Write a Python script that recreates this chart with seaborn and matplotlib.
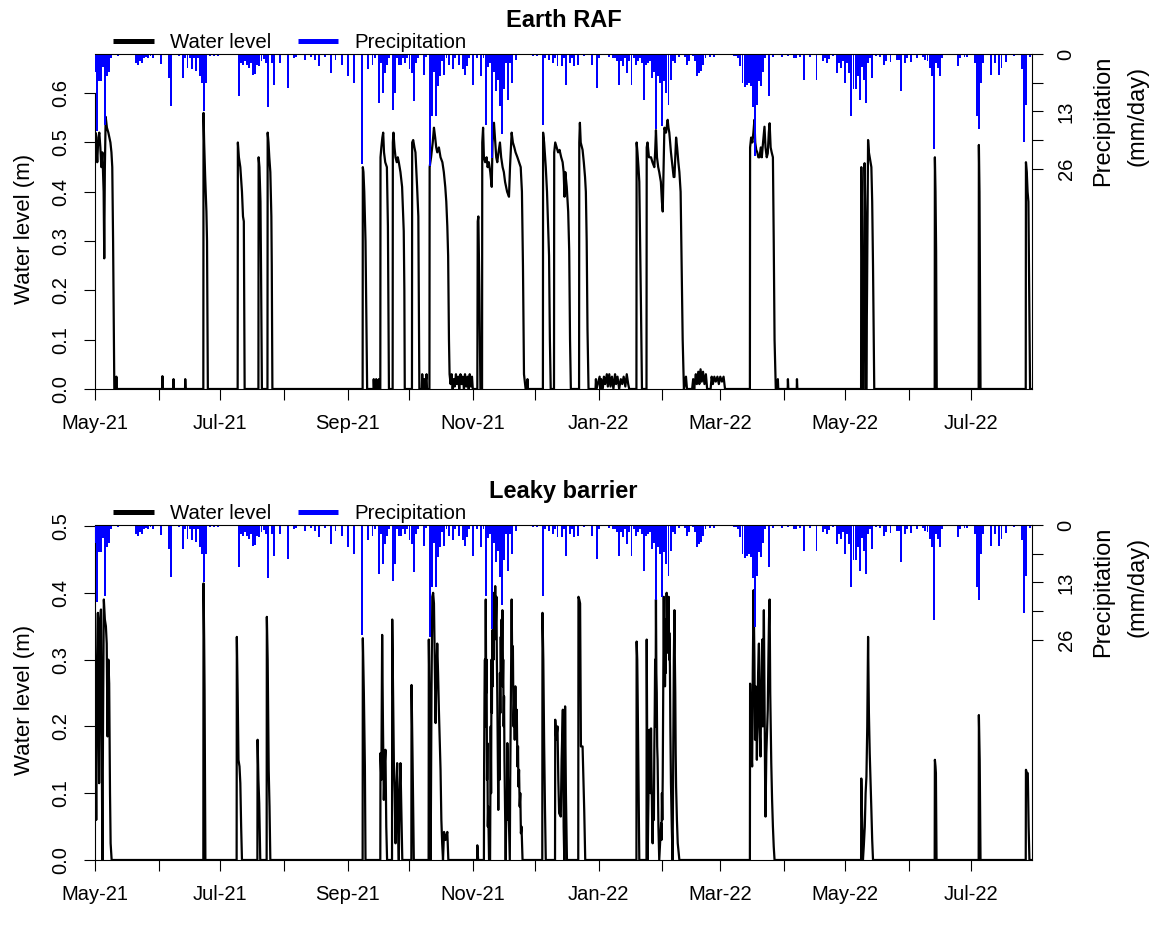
import matplotlib
matplotlib.use("Agg")
import matplotlib.pyplot as plt
from matplotlib.lines import Line2D
import seaborn as sns
import pandas as pd
import numpy as np

# ---------------- data ----------------
START = "2021-05-01"

# Daily precipitation (mm/day): day offset from 1 May 2021, amount
rain_day = [0, 1, 2, 3, 4, 5, 6, 7, 8, 11,
            20, 21, 22, 23, 24, 25, 26, 27, 28, 32, 36, 37, 41,
            43, 44, 45, 46, 47, 48, 49, 50, 51, 52, 53, 54, 56, 58, 60,
            70, 71, 72, 73, 74, 75, 76, 77, 78, 79, 80, 81, 82, 83, 84,
            86, 87, 90, 94, 97, 98, 102, 105, 107, 109, 112, 115,
            117, 120, 123, 126, 130, 133, 135, 136,
            138, 139, 140, 141, 142, 143, 145, 146, 147, 148, 149, 150, 151, 152,
            153, 154, 155, 156, 157, 160, 161,
            163, 164, 165, 166, 167, 168, 169, 170, 171,
            172, 174, 175, 177, 179, 180, 181, 182, 184, 186,
            188, 189, 190, 191, 192, 193, 194, 195, 196, 197, 198, 199, 200, 201, 202, 203, 205,
            213, 215, 218, 219, 221, 223, 224, 225, 227, 228, 229, 231, 232,
            233, 235, 238, 242, 244, 245,
            250, 252, 253, 254, 255, 256, 257, 258, 259, 260, 261, 262, 263, 264, 265, 266,
            267, 268, 269, 270, 271, 272, 273, 274, 275, 276, 277, 278, 279, 280, 281, 282, 284,
            287, 288, 289, 291, 292, 293, 294, 295, 296, 297, 299, 301,
            311, 312, 313, 314, 315, 316, 317, 318, 319, 320, 321, 322, 323, 324, 325, 326, 328,
            330, 334, 337, 340, 341, 343, 345, 348,
            351, 354, 355, 356, 357, 359, 361, 362, 363, 364, 365, 366, 367, 368, 369, 370,
            371, 372, 373, 374, 375, 376, 377, 378, 380, 382,
            384, 385, 387, 390, 391, 392, 394, 395, 397, 400,
            403, 404, 405, 406, 407, 408, 409, 410, 411, 412,
            420, 421, 423, 424, 428, 429, 430, 431, 432,
            436, 438, 440, 441, 443, 447, 451, 452, 453, 455]
rain_mm = [4, 17.5, 6, 6, 3, 16, 5, 4, 1, 0.5,
           2, 2.5, 1.5, 2, 1, 0.6, 1, 0.5, 0.8, 2.2, 5.4, 11.8, 0.5,
           5.4, 1, 3.2, 1, 3.5, 1, 3.9, 1, 5, 6.5, 13, 6.5, 0.5, 0.5, 0.5,
           9.5, 2, 2.5, 1.5, 2.5, 3.2, 2, 4.7, 4.5, 2.5, 2.8, 1.5, 1.2, 2, 12,
           2, 7, 2, 7.7, 1, 0.6, 1.3, 0.6, 1.3, 2.8, 0.6, 4.3,
           1.3, 2.4, 5, 6.5, 25, 3.5, 2.4, 0.8,
           11, 2, 8.8, 4.3, 2.4, 1, 12.6, 8.8, 1, 2.4, 2.4, 1, 2, 1,
           3.5, 4.3, 10.7, 2, 0.8, 4.7, 0.6,
           25.4, 14, 4, 14, 7.3, 5, 1.5, 4.7, 1,
           2.4, 3.5, 1, 2.4, 3.5, 4.7, 2.8, 0.8, 7, 0.8,
           5, 1, 16, 3, 2, 23.5, 4, 8.4, 5.8, 11.8, 18.2, 8, 2, 10.3, 2, 6.5, 1.3,
           0.5, 0.5, 16, 1, 1.3, 2, 1, 2.8, 2.8, 1, 7, 2, 1,
           2.8, 2.4, 0.5, 2.4, 7.7, 1,
           0.6, 1, 1, 1.5, 7, 1.5, 2.8, 1, 4.3, 1.5, 7, 1, 2.4, 1.5, 1, 2,
           10.3, 2.4, 2, 1.5, 5.4, 4, 17, 5, 6.5, 16.4, 6, 8.8, 11.5, 5.8, 1.5, 2, 0.7,
           0.7, 2.4, 1.5, 0.5, 1.5, 5, 4.3, 3.9, 2.4, 1, 0.7, 0.7,
           0.4, 0.5, 1, 2.8, 6.5, 7.5, 7, 6.5, 7.3, 12, 23, 11.5, 6.2, 7.3, 4, 1, 9.6,
           0.7, 0.7, 0.5, 0.9, 0.9, 0.6, 5.8, 0.6,
           5.8, 1.5, 1, 2, 1.2, 0.5, 4.3, 2, 3.2, 1.5, 6.5, 2, 4.3, 14, 8, 8,
           5, 10.3, 3, 5.8, 11, 2, 1, 5.4, 0.5, 0.7,
           2.4, 1.5, 1.7, 1.3, 1.3, 8.4, 2, 1, 1.7, 0.9,
           0.6, 1.3, 1.5, 3.2, 5, 21.6, 2, 3.2, 5, 1,
           2.8, 1, 0.7, 0.7, 2, 14, 17, 6.5, 2,
           4.7, 2, 4.7, 3.2, 1.7, 0.5, 3.5, 20, 11.5, 0.7]

# Water level (m), Earth RAF: (day offset, level)
raf_series = [
    (0.0, 0.47), (0.2, 0.52), (0.7, 0.49), (1.1, 0.46), (1.6, 0.51), (2.1, 0.52), (2.6, 0.49),
    (3.1, 0.45), (3.6, 0.48), (4.2, 0.40), (4.5, 0.265), (4.8, 0.45), (5.2, 0.552), (5.8, 0.53),
    (6.5, 0.52), (7.5, 0.50), (8.0, 0.48), (8.4, 0.45), (8.8, 0.30), (9.1, 0.15), (9.4, 0.0),
    (10.2, 0.0), (10.4, 0.025), (10.6, 0.0),
    (32.7, 0.0), (32.8, 0.026), (33.0, 0.0), (38.1, 0.0), (38.2, 0.02), (38.4, 0.0),
    (43.8, 0.0), (43.9, 0.02), (44.1, 0.0),
    (52.7, 0.0), (52.8, 0.56), (53.1, 0.50), (53.6, 0.43), (54.2, 0.36), (54.5, 0.30), (54.9, 0.0),
    (69.4, 0.0), (69.5, 0.50), (70.0, 0.47), (70.7, 0.45), (71.5, 0.40), (72.0, 0.35), (72.4, 0.34), (72.8, 0.0),
    (79.5, 0.0), (79.6, 0.47), (80.0, 0.45), (80.5, 0.38), (80.8, 0.23), (81.2, 0.0),
    (83.9, 0.0), (84.0, 0.52), (84.4, 0.50), (84.8, 0.47), (85.3, 0.44), (85.8, 0.35), (86.0, 0.25), (86.3, 0.0),
    (130.2, 0.0), (130.3, 0.45), (130.6, 0.44), (131.0, 0.40), (131.6, 0.30), (132.0, 0.15), (132.4, 0.0),
    (135.5, 0.0), (135.6, 0.02), (135.8, 0.0), (136.7, 0.0), (136.8, 0.02), (137.0, 0.0),
    (138.0, 0.0), (138.1, 0.02), (138.3, 0.0),
    (138.8, 0.0), (138.9, 0.47), (139.3, 0.49), (139.8, 0.51), (140.2, 0.52), (140.6, 0.48),
    (141.2, 0.46), (142.0, 0.45), (142.5, 0.33), (143.0, 0.0),
    (144.8, 0.0), (144.9, 0.50), (145.2, 0.52), (145.7, 0.49), (146.2, 0.47), (146.8, 0.46),
    (147.3, 0.47), (147.8, 0.46), (148.6, 0.44), (149.4, 0.41), (150.2, 0.32), (150.5, 0.20), (150.7, 0.0),
    (154.2, 0.0), (154.3, 0.50), (154.8, 0.505), (155.4, 0.49), (155.9, 0.48), (156.7, 0.41),
    (157.3, 0.35), (157.8, 0.0),
    (159.0, 0.0), (159.2, 0.03), (159.4, 0.0), (160.3, 0.02), (160.5, 0.0), (161.3, 0.03), (161.5, 0.0),
    (162.7, 0.0), (162.8, 0.45), (163.5, 0.47), (164.3, 0.50), (164.9, 0.53), (165.5, 0.51),
    (166.0, 0.49), (166.5, 0.48), (167.3, 0.49), (168.1, 0.47), (169.0, 0.46), (169.7, 0.44),
    (170.4, 0.41), (170.9, 0.38), (171.4, 0.33), (171.8, 0.27), (172.2, 0.10), (172.5, 0.03),
    (173.0, 0.01), (173.5, 0.03), (174.0, 0.0), (174.5, 0.02), (175.0, 0.005), (175.6, 0.03),
    (176.0, 0.01), (176.7, 0.025), (177.2, 0.0), (177.8, 0.03), (178.3, 0.01), (178.9, 0.025),
    (179.5, 0.0), (180.0, 0.03), (180.6, 0.005), (181.2, 0.025), (181.8, 0.0), (182.3, 0.03),
    (182.9, 0.005), (183.4, 0.025), (183.8, 0.0),
    (186.0, 0.0), (186.2, 0.34), (186.5, 0.35), (187.0, 0.20), (187.5, 0.0),
    (188.3, 0.0), (188.4, 0.50), (188.8, 0.53), (189.2, 0.47), (189.8, 0.46), (190.5, 0.47),
    (191.0, 0.45), (191.6, 0.46), (192.3, 0.44), (193.0, 0.41), (193.4, 0.50), (194.1, 0.54),
    (194.7, 0.50), (195.2, 0.47), (195.7, 0.46), (196.3, 0.48), (197.0, 0.50), (197.6, 0.47),
    (198.3, 0.45), (198.9, 0.44), (199.5, 0.42), (200.5, 0.40), (201.4, 0.39), (201.9, 0.45),
    (202.7, 0.52), (203.3, 0.50), (204.0, 0.49), (204.6, 0.48), (205.5, 0.47), (206.3, 0.46),
    (207.1, 0.45), (207.7, 0.40), (208.2, 0.25), (208.7, 0.03), (209.5, 0.0),
    (210.3, 0.0), (210.4, 0.02), (210.6, 0.0),
    (217.9, 0.0), (218.0, 0.52), (218.5, 0.50), (219.3, 0.45), (219.9, 0.40), (220.5, 0.32),
    (220.9, 0.27), (221.3, 0.10), (221.7, 0.0),
    (223.3, 0.0), (223.4, 0.48), (223.9, 0.50), (224.6, 0.49), (225.3, 0.48), (226.0, 0.485),
    (226.8, 0.47), (227.5, 0.46), (228.0, 0.44), (228.4, 0.39), (228.8, 0.44), (229.5, 0.41),
    (230.2, 0.36), (230.7, 0.28), (231.1, 0.10), (231.5, 0.0),
    (235.5, 0.0), (235.6, 0.50), (235.9, 0.54), (236.3, 0.50), (237.2, 0.485), (237.8, 0.46),
    (238.4, 0.43), (238.8, 0.40), (239.2, 0.30), (239.6, 0.12), (240.1, 0.0),
    (243.5, 0.0), (243.7, 0.02), (244.0, 0.0), (245.5, 0.025), (245.8, 0.0), (246.3, 0.02),
    (247.0, 0.0), (247.6, 0.025), (248.2, 0.01), (249.0, 0.03), (249.5, 0.005), (250.2, 0.03),
    (250.8, 0.005), (251.5, 0.025), (252.2, 0.0), (253.0, 0.03), (253.5, 0.01), (254.2, 0.025),
    (255.0, 0.0), (255.8, 0.02), (256.5, 0.01), (257.2, 0.025), (258.0, 0.005), (258.7, 0.03),
    (259.4, 0.01), (259.9, 0.0),
    (263.4, 0.0), (263.5, 0.50), (263.9, 0.48), (264.4, 0.45), (264.8, 0.42), (265.2, 0.30),
    (265.6, 0.17), (266.1, 0.0),
    (268.3, 0.0), (268.4, 0.49), (268.8, 0.50), (269.5, 0.47), (270.5, 0.47), (271.2, 0.46),
    (272.1, 0.45), (272.5, 0.48), (272.9, 0.525), (273.4, 0.47), (274.0, 0.45), (274.5, 0.44),
    (275.3, 0.42), (275.8, 0.38), (276.2, 0.36), (276.6, 0.45), (277.0, 0.53), (277.8, 0.52),
    (278.6, 0.546), (279.0, 0.53), (279.4, 0.52), (280.2, 0.48), (281.0, 0.45), (281.5, 0.43),
    (281.9, 0.43), (282.3, 0.47), (282.7, 0.51), (283.2, 0.49), (283.8, 0.46), (284.3, 0.44),
    (284.9, 0.40), (285.4, 0.25), (285.9, 0.10), (286.5, 0.0),
    (287.0, 0.01), (287.5, 0.025), (288.0, 0.0), (290.5, 0.0), (291.0, 0.02), (291.5, 0.0),
    (292.3, 0.03), (292.8, 0.01), (293.5, 0.035), (294.0, 0.01), (294.6, 0.04), (295.2, 0.015),
    (295.8, 0.035), (296.5, 0.01), (297.2, 0.03), (297.8, 0.0), (299.5, 0.0), (300.0, 0.025),
    (300.6, 0.01), (301.3, 0.025), (302.0, 0.015), (302.8, 0.025), (303.5, 0.01), (304.2, 0.025),
    (305.0, 0.015), (305.8, 0.025), (306.5, 0.0),
    (318.6, 0.0), (318.7, 0.49), (319.2, 0.51), (319.8, 0.50), (320.3, 0.52), (320.8, 0.546),
    (321.2, 0.50), (321.7, 0.485), (322.2, 0.48), (322.7, 0.47), (323.3, 0.47), (323.9, 0.49),
    (324.4, 0.47), (325.0, 0.50), (325.7, 0.532), (326.2, 0.49), (326.8, 0.47), (327.3, 0.478),
    (327.8, 0.52), (328.2, 0.539), (328.7, 0.49), (329.2, 0.48), (329.8, 0.47), (330.2, 0.30),
    (330.6, 0.10), (331.2, 0.0),
    (332.1, 0.0), (332.2, 0.02), (332.4, 0.0), (337.0, 0.0), (337.1, 0.02), (337.3, 0.0),
    (341.4, 0.0), (341.5, 0.02), (341.7, 0.0),
    (372.7, 0.0), (372.8, 0.45), (373.1, 0.35), (373.5, 0.0), (374.0, 0.0), (374.4, 0.458),
    (374.8, 0.35), (375.2, 0.0), (375.6, 0.20), (376.1, 0.505), (376.5, 0.48), (376.9, 0.47),
    (377.3, 0.46), (377.7, 0.45), (378.1, 0.38), (378.5, 0.25), (379.1, 0.0),
    (408.5, 0.0), (408.6, 0.47), (408.9, 0.40), (409.2, 0.28), (409.5, 0.0),
    (429.9, 0.0), (430.0, 0.495), (430.3, 0.40), (430.8, 0.0),
    (452.8, 0.0), (452.9, 0.46), (453.3, 0.44), (453.7, 0.40), (454.1, 0.38), (454.5, 0.20),
    (454.9, 0.0), (455.7, 0.0),
]

# Water level (m), Leaky barrier: (day offset, level)
leaky_series = [
    (0.0, 0.26), (0.3, 0.20), (0.6, 0.06), (1.0, 0.30), (1.4, 0.37), (1.8, 0.20), (2.0, 0.115),
    (2.5, 0.36), (2.9, 0.375), (3.3, 0.15), (3.6, 0.0), (3.9, 0.20), (4.3, 0.39), (4.8, 0.36),
    (5.3, 0.35), (5.7, 0.324), (6.1, 0.185), (6.5, 0.30), (6.9, 0.264), (7.3, 0.10), (7.6, 0.025), (8.1, 0.0),
    (52.7, 0.0), (52.8, 0.414), (53.1, 0.33), (53.3, 0.255), (53.7, 0.0),
    (68.9, 0.0), (69.0, 0.334), (69.4, 0.25), (69.8, 0.15), (70.3, 0.14), (70.7, 0.115), (71.1, 0.05), (71.5, 0.0),
    (79.0, 0.0), (79.1, 0.18), (79.5, 0.12), (79.9, 0.085), (80.4, 0.0),
    (83.5, 0.0), (83.6, 0.364), (84.0, 0.30), (84.5, 0.135), (84.9, 0.08), (85.3, 0.0),
    (130.2, 0.0), (130.3, 0.332), (130.8, 0.25), (131.3, 0.14), (131.6, 0.0),
    (138.8, 0.0), (138.9, 0.16), (139.3, 0.12), (139.7, 0.337), (140.1, 0.20), (140.5, 0.09),
    (140.9, 0.14), (141.3, 0.165), (141.7, 0.05), (142.1, 0.0),
    (144.5, 0.0), (144.6, 0.36), (145.0, 0.25), (145.4, 0.145), (145.8, 0.10), (146.2, 0.025),
    (146.6, 0.10), (147.0, 0.145), (147.4, 0.05), (147.8, 0.0), (148.2, 0.10), (148.6, 0.145),
    (149.0, 0.08), (149.5, 0.0),
    (153.9, 0.0), (154.0, 0.262), (154.5, 0.15), (155.1, 0.0),
    (162.3, 0.0), (162.4, 0.33), (162.9, 0.20), (163.3, 0.0), (163.7, 0.25), (164.1, 0.394),
    (164.5, 0.40), (164.9, 0.384), (165.3, 0.30), (165.7, 0.205), (166.1, 0.28), (166.5, 0.324),
    (166.9, 0.28), (167.3, 0.225), (167.7, 0.18), (168.1, 0.135), (168.5, 0.06), (168.9, 0.025),
    (169.3, 0.0), (169.8, 0.042), (170.5, 0.03), (171.4, 0.042), (171.9, 0.0),
    (185.9, 0.0), (186.0, 0.022), (186.4, 0.0),
    (189.2, 0.0), (189.3, 0.14), (189.5, 0.25), (189.7, 0.30), (189.9, 0.20), (190.1, 0.39),
    (190.3, 0.25), (190.5, 0.30), (190.7, 0.12), (190.9, 0.175), (191.1, 0.05), (191.3, 0.08),
    (191.7, 0.0), (192.2, 0.0), (192.4, 0.12), (192.5, 0.20), (192.7, 0.10), (192.9, 0.30),
    (193.1, 0.22), (193.3, 0.344), (193.5, 0.26), (193.7, 0.38), (193.9, 0.30), (194.1, 0.40),
    (194.4, 0.33), (194.7, 0.41), (195.0, 0.35), (195.3, 0.394), (195.5, 0.30), (195.7, 0.25),
    (196.0, 0.14), (196.2, 0.075), (196.4, 0.16), (196.6, 0.20), (196.8, 0.12), (197.0, 0.28),
    (197.2, 0.22), (197.4, 0.334), (197.6, 0.27), (197.8, 0.36), (198.0, 0.30), (198.2, 0.374),
    (198.4, 0.26), (198.6, 0.30), (198.8, 0.20), (199.0, 0.245), (199.2, 0.15), (199.4, 0.10),
    (199.8, 0.0), (200.2, 0.10), (200.4, 0.06), (200.6, 0.175), (200.9, 0.12), (201.2, 0.08),
    (201.8, 0.0), (202.0, 0.12), (202.2, 0.20), (202.4, 0.30), (202.7, 0.39), (203.0, 0.28),
    (203.3, 0.32), (203.6, 0.20), (203.9, 0.235), (204.2, 0.18), (204.5, 0.26), (204.8, 0.19),
    (205.2, 0.225), (205.5, 0.14), (205.8, 0.17), (206.0, 0.11), (206.3, 0.135), (206.6, 0.08),
    (206.9, 0.10), (207.2, 0.04), (207.5, 0.05), (208.0, 0.0),
    (217.6, 0.0), (217.7, 0.37), (218.1, 0.30), (218.5, 0.175), (218.9, 0.08), (219.3, 0.0),
    (223.8, 0.0), (223.9, 0.21), (224.4, 0.18), (225.0, 0.20), (225.4, 0.12), (225.8, 0.07),
    (226.6, 0.065), (227.0, 0.15), (227.6, 0.225), (228.0, 0.05), (228.3, 0.0), (228.7, 0.23),
    (229.1, 0.10), (229.6, 0.0),
    (235.1, 0.0), (235.2, 0.394), (235.6, 0.39), (236.0, 0.384), (236.4, 0.17), (236.8, 0.17),
    (237.2, 0.17), (237.6, 0.12), (238.0, 0.075), (238.5, 0.0),
    (263.4, 0.0), (263.5, 0.327), (263.8, 0.30), (264.0, 0.245), (264.4, 0.12), (264.8, 0.0),
    (268.3, 0.0), (268.4, 0.33), (268.7, 0.15), (268.9, 0.0), (269.1, 0.06), (269.3, 0.10),
    (269.5, 0.15), (269.7, 0.195), (269.9, 0.12), (270.1, 0.16), (270.3, 0.10), (270.5, 0.197),
    (270.7, 0.14), (270.9, 0.10), (271.1, 0.04), (271.3, 0.025), (271.5, 0.07), (271.7, 0.10),
    (271.9, 0.06), (272.1, 0.165), (272.3, 0.22), (272.5, 0.30), (272.7, 0.20), (272.9, 0.39),
    (273.1, 0.28), (273.3, 0.25), (273.5, 0.17), (273.7, 0.15), (274.1, 0.05), (274.5, 0.0),
    (275.0, 0.03), (275.4, 0.055), (275.6, 0.03), (275.8, 0.10), (276.0, 0.06), (276.2, 0.125),
    (276.5, 0.30), (276.7, 0.394), (276.9, 0.30), (277.1, 0.35), (277.3, 0.26), (277.5, 0.314),
    (277.7, 0.28), (277.8, 0.36), (278.0, 0.32), (278.1, 0.40), (278.3, 0.34), (278.6, 0.37),
    (278.8, 0.31), (279.1, 0.394), (279.3, 0.30), (279.4, 0.34), (279.7, 0.29), (279.9, 0.20),
    (280.2, 0.115), (280.6, 0.05), (281.0, 0.0), (281.2, 0.10), (281.4, 0.20), (281.6, 0.30),
    (281.9, 0.374), (282.1, 0.30), (282.3, 0.25), (282.5, 0.16), (282.7, 0.11), (283.1, 0.06),
    (283.5, 0.025), (284.3, 0.0),
    (318.6, 0.0), (318.7, 0.264), (319.0, 0.20), (319.3, 0.16), (319.7, 0.14), (320.0, 0.28),
    (320.4, 0.404), (320.8, 0.30), (321.1, 0.18), (321.4, 0.26), (321.7, 0.245), (322.0, 0.15),
    (322.3, 0.22), (322.6, 0.28), (323.0, 0.324), (323.3, 0.20), (323.6, 0.17), (323.8, 0.155),
    (324.1, 0.25), (324.4, 0.30), (324.6, 0.33), (324.9, 0.20), (325.1, 0.28), (325.4, 0.374),
    (325.7, 0.24), (326.0, 0.12), (326.2, 0.065), (326.6, 0.16), (327.0, 0.20), (327.3, 0.225),
    (327.6, 0.30), (327.9, 0.36), (328.2, 0.39), (328.5, 0.25), (328.8, 0.19), (329.0, 0.145),
    (329.4, 0.09), (329.8, 0.05), (330.2, 0.02), (330.6, 0.0),
    (372.7, 0.0), (372.8, 0.122), (373.2, 0.06), (373.6, 0.0), (374.0, 0.02), (374.5, 0.05),
    (374.9, 0.10), (375.3, 0.125), (375.7, 0.20), (376.1, 0.334), (376.5, 0.22), (376.9, 0.16),
    (377.3, 0.12), (377.7, 0.075), (378.1, 0.03), (378.5, 0.0),
    (408.5, 0.0), (408.6, 0.15), (408.9, 0.14), (409.1, 0.13), (409.4, 0.0),
    (429.9, 0.0), (430.0, 0.217), (430.4, 0.15), (430.8, 0.0),
    (452.8, 0.0), (452.9, 0.135), (453.4, 0.13), (453.8, 0.13), (454.2, 0.05), (454.6, 0.0),
    (455.7, 0.0),
]

panel_titles = ["Earth RAF", "Leaky barrier"]
left_ticks = [[0.0, 0.1, 0.2, 0.3, 0.4, 0.5, 0.6], [0.0, 0.1, 0.2, 0.3, 0.4, 0.5]]
left_top = [0.6795, 0.5015]
rain_ticks = [0, 6.5, 13, 19.5, 26]
rain_tick_labels = ["0", "", "13", "", "26"]
RAIN_MAX = 75.8
X_END_DAYS = 455.7

# ---------------- style ----------------
sns.set_style("ticks")
plt.rcParams["font.family"] = ["Liberation Sans", "DejaVu Sans"]
plt.rcParams.update({"text.color": "black", "axes.labelcolor": "black",
                     "xtick.color": "black", "ytick.color": "black",
                     "axes.edgecolor": "black"})

W, H = 1173, 931
fig = plt.figure(figsize=(W / 100, H / 100), dpi=100)

start = pd.Timestamp(START)
end = start + pd.Timedelta(days=X_END_DAYS)
rain_dates = start + pd.to_timedelta(np.array(rain_day, dtype=float), unit="D")
months = pd.date_range("2021-05-01", "2022-07-01", freq="MS")
month_labels = [m.strftime("%b-%y") if i % 2 == 0 else "" for i, m in enumerate(months)]

panel_offsets = [0, 471]  # pixel offset of the lower panel
series_list = [raf_series, leaky_series]

for k in range(2):
    off = panel_offsets[k]
    ax = fig.add_axes([95 / W, 1 - (389 + off) / H, 936.7 / W, 335 / H])
    days, levels = zip(*series_list[k])
    dates = start + pd.to_timedelta(np.array(days, dtype=float), unit="D")
    df = pd.DataFrame({"date": dates, "level": levels})
    sns.lineplot(data=df, x="date", y="level", ax=ax, color="black", linewidth=1.6,
                 estimator=None, sort=False, legend=False)
    ax.set_xlim(start, end)
    ax.set_ylim(0, left_top[k])
    ax.set_xlabel("")
    ax.set_ylabel("")
    ax.set_yticks(left_ticks[k])
    ax.set_yticklabels([f"{v:.1f}" for v in left_ticks[k]])
    ax.set_xticks(months)
    ax.set_xticklabels(month_labels)
    ax.tick_params(axis="both", direction="out", length=8, width=0.8, labelsize=14.5,
                   pad=10, color="black", labelcolor="black")
    for lbl in ax.get_yticklabels():
        lbl.set_rotation(90)
        lbl.set_va("center")
    for s in ["top", "right"]:
        ax.spines[s].set_visible(False)
    ax.spines["left"].set_bounds(0, left_ticks[k][-1])
    for s in ["left", "bottom"]:
        ax.spines[s].set_linewidth(0.8)
        ax.spines[s].set_color("black")

    ax2 = ax.twinx()
    ax2.bar(rain_dates, rain_mm, width=0.95, color="#0000ff", linewidth=0, align="center")
    ax2.set_ylim(RAIN_MAX, 0)
    ax2.set_xlim(start, end)
    ax2.set_yticks(rain_ticks)
    ax2.set_yticklabels(rain_tick_labels)
    ax2.tick_params(axis="y", direction="out", length=8, width=0.8, labelsize=14.5, pad=10,
                    color="black", labelcolor="black")
    for lbl in ax2.get_yticklabels():
        lbl.set_rotation(90)
        lbl.set_va("center")
    for s in ["left", "bottom"]:
        ax2.spines[s].set_visible(False)
    for s in ["top", "right"]:
        ax2.spines[s].set_visible(True)
        ax2.spines[s].set_linewidth(0.8)
        ax2.spines[s].set_color("black")
    ax2.set_ylabel("")

    # titles and labels
    fig.text(563.4 / W, 1 - (26.7 + off) / H, panel_titles[k], ha="center", va="baseline",
             fontsize=17, fontweight="bold", color="black")
    fig.text(25 / W, 1 - (229 + off) / H, "Water level (m)", rotation=90, ha="center",
             va="center", fontsize=16, color="black")
    fig.text(1103 / W, 1 - (121 + off) / H, "Precipitation", rotation=90, ha="center",
             va="center", fontsize=17, color="black")
    fig.text(1137 / W, 1 - (116 + off) / H, "(mm/day)", rotation=90, ha="center",
             va="center", fontsize=17, color="black")

    handles = [Line2D([], [], color="black", lw=3.6, solid_capstyle="butt"),
               Line2D([], [], color="#0000ff", lw=3.6, solid_capstyle="butt")]
    ax.legend(handles=handles, labels=["Water level", "Precipitation"], loc="center left",
              bbox_to_anchor=(112.7 / W, 1 - (42.3 + off) / H), bbox_transform=fig.transFigure,
              ncol=2, frameon=False, fontsize=14.7, handlelength=2.0, handletextpad=0.8,
              columnspacing=1.3, borderpad=0, borderaxespad=0, labelcolor="black")

fig.savefig("out.png", dpi=100, facecolor="white")
